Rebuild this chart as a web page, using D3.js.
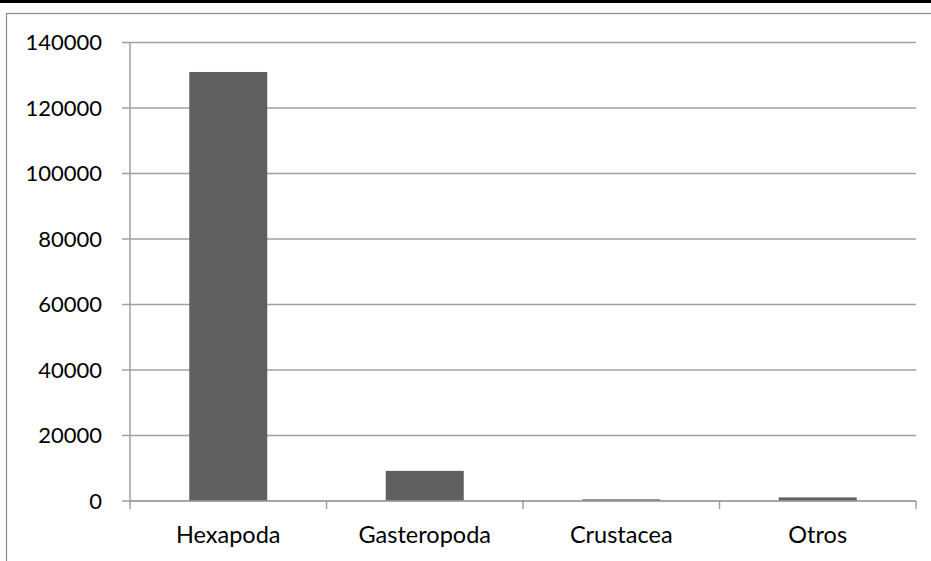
<!DOCTYPE html>
<html><head><meta charset="utf-8">
<script src="https://cdn.jsdelivr.net/npm/d3@7"></script>
<style>body{margin:0;background:#fff}svg{display:block}text{font-family:Lato,"Open Sans",sans-serif;fill:#000}</style>
</head><body>
<svg id="c" width="931" height="561"></svg>
<script>
const categories = ["Hexapoda","Gasteropoda","Crustacea","Otros"];
const values = [131000, 9200, 500, 1100];
const yTicks = [0,20000,40000,60000,80000,100000,120000,140000];

const svg = d3.select("#c");
const W = 931, H = 561;
const m = {left:130, right:916, top:42.5, bottom:501};

// top black rule and outer frame
svg.append("rect").attr("x",0).attr("y",0).attr("width",W).attr("height",3).attr("fill","#000");
svg.append("rect").attr("x",6.5).attr("y",13.5).attr("width",W).attr("height",H).attr("fill","none").attr("stroke","#8c8c8c").attr("stroke-width",1.2);

const xc = d3.scalePoint().domain(d3.range(categories.length+1)).range([m.left,m.right]);
const y = d3.scaleLinear().domain([0,140000]).range([m.bottom,m.top]);

// gridlines
svg.append("g").selectAll("line").data(yTicks).join("line")
  .attr("x1",m.left-8).attr("x2",m.right).attr("y1",d=>y(d)).attr("y2",d=>y(d))
  .attr("stroke","#a0a0a0").attr("stroke-width",1.5);

// y axis line
svg.append("line").attr("x1",m.left).attr("x2",m.left).attr("y1",m.top).attr("y2",m.bottom)
  .attr("stroke","#a0a0a0").attr("stroke-width",1.5);

// y labels
svg.append("g").selectAll("text").data(yTicks).join("text")
  .attr("x",m.left-28).attr("y",d=>y(d)).attr("dy","0.35em").attr("text-anchor","end")
  .attr("font-size",22).text(d=>d);

// bars
const bw = 78;
svg.append("g").selectAll("rect").data(values).join("rect")
  .attr("x",(d,i)=>(xc(i)+xc(i+1))/2 - bw/2).attr("width",bw)
  .attr("y",d=>y(d)).attr("height",d=>y(0)-y(d)).attr("fill","#606060");

// x axis ticks
svg.append("g").selectAll("line").data(d3.range(categories.length+1)).join("line")
  .attr("x1",d=>xc(d)).attr("x2",d=>xc(d)).attr("y1",m.bottom).attr("y2",m.bottom+8)
  .attr("stroke","#a0a0a0").attr("stroke-width",1.5);
svg.append("line").attr("x1",m.left).attr("x2",m.right).attr("y1",m.bottom).attr("y2",m.bottom)
  .attr("stroke","#a0a0a0").attr("stroke-width",1.5);

// x labels
svg.append("g").selectAll("text").data(categories).join("text")
  .attr("x",(d,i)=>(xc(i)+xc(i+1))/2).attr("y",543).attr("text-anchor","middle")
  .attr("font-size",23.5).text(d=>d);
</script>
</body></html>
